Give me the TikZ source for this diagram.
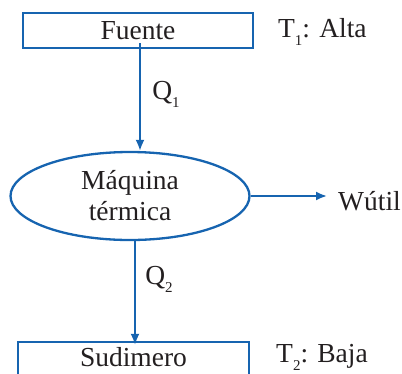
\documentclass[tikz,border=0pt]{standalone}
\usepackage{fontspec}
\setmainfont{Liberation Serif}
\usetikzlibrary{shapes.geometric,arrows.meta,calc}
\definecolor{lineblue}{RGB}{22,100,176}
\definecolor{ink}{RGB}{35,31,32}
\newcommand\lowidx[1]{\raisebox{-8pt}{\fontsize{15}{15}\selectfont #1}}
\begin{document}
\begin{tikzpicture}[x=1pt,y=-1pt,
  every node/.style={text=ink,font=\fontsize{27.5}{32}\selectfont},
  reservoir/.style={draw=lineblue,line width=2.3pt,rectangle,minimum width=230pt,minimum height=35pt,inner sep=0pt},
  engine/.style={draw=lineblue,line width=2.3pt,ellipse,minimum width=239pt,minimum height=88pt,inner sep=0pt,align=center},
  flow/.style={draw=lineblue,line width=2pt,-{Latex[length=11pt,width=9pt]}},
  tag/.style={inner sep=0pt,anchor=west}]
  \useasboundingbox (0,0) rectangle (402,373);
  % heat source and sink
  \node[reservoir] (fuente) at (138,30.5) {Fuente};
  \node[reservoir,minimum width=231pt,minimum height=34pt,text depth=5pt] (sink) at (133.5,359) {Sudimero};
  % the engine
  \node[engine] (maq) at (130,196) {Máquina\\[-1pt]térmica};
  % temperature tags
  \node[tag] (t1) at (278,32) {T\lowidx{1}: Alta};
  \node[tag] (t2) at (276,357) {T\lowidx{2}: Baja};
  % heat and work labels
  \node[inner sep=0pt] (q1) at (166,94) {Q\lowidx{1}};
  \node[inner sep=0pt] (q2) at (159,279) {Q\lowidx{2}};
  \node[tag] (wutil) at (338,201) {Wútil};
  % flows
  \draw[flow] ([xshift=2pt,yshift=6pt]fuente.south) -- ([xshift=10pt]maq.north);
  \draw[flow] (maq.east) -- ([xshift=-11pt]wutil.west |- maq.east);
  \draw[flow] ([xshift=5pt]maq.south) -- ([xshift=1.5pt,yshift=-4pt]sink.north);
\end{tikzpicture}
\end{document}
